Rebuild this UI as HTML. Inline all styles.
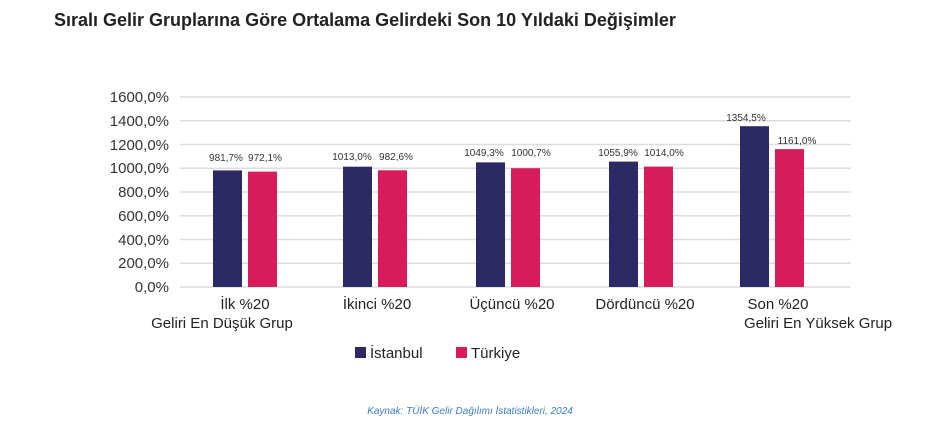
<!DOCTYPE html><html><head><style>body{margin:0;background:#fff}svg{display:block}</style></head><body>
<svg width="941" height="444" xmlns="http://www.w3.org/2000/svg" font-family="Liberation Sans, sans-serif">
<text x="54" y="26" font-size="18" font-weight="bold" fill="#222">Sıralı Gelir Gruplarına Göre Ortalama Gelirdeki Son 10 Yıldaki Değişimler</text>
<g stroke="#ddd" stroke-width="1.5">
<line x1="180" x2="851" y1="97" y2="97"/><line x1="180" x2="851" y1="120.75" y2="120.75"/><line x1="180" x2="851" y1="144.5" y2="144.5"/><line x1="180" x2="851" y1="168.25" y2="168.25"/><line x1="180" x2="851" y1="192" y2="192"/><line x1="180" x2="851" y1="215.75" y2="215.75"/><line x1="180" x2="851" y1="239.5" y2="239.5"/><line x1="180" x2="851" y1="263.25" y2="263.25"/><line x1="180" x2="851" y1="287" y2="287"/>
</g>
<g font-size="15" fill="#333" text-anchor="end">
<text x="169" y="102">1600,0%</text><text x="169" y="126">1400,0%</text><text x="169" y="150">1200,0%</text><text x="169" y="173">1000,0%</text><text x="169" y="197">800,0%</text><text x="169" y="221">600,0%</text><text x="169" y="245">400,0%</text><text x="169" y="268">200,0%</text><text x="169" y="292">0,0%</text>
</g>
<g>
<rect x="213" y="170.4" width="29" height="116.6" fill="#2b2a64"/><rect x="248" y="171.6" width="29" height="115.4" fill="#d81b5a"/>
<rect x="343" y="166.7" width="29" height="120.3" fill="#2b2a64"/><rect x="378" y="170.3" width="29" height="116.7" fill="#d81b5a"/>
<rect x="476" y="162.4" width="29" height="124.6" fill="#2b2a64"/><rect x="511" y="168.2" width="29" height="118.8" fill="#d81b5a"/>
<rect x="609" y="161.6" width="29" height="125.4" fill="#2b2a64"/><rect x="644" y="166.6" width="29" height="120.4" fill="#d81b5a"/>
<rect x="740" y="126.2" width="29" height="160.8" fill="#2b2a64"/><rect x="775" y="149.1" width="29" height="137.9" fill="#d81b5a"/>
</g>
<g font-size="10" fill="#333" text-anchor="middle">
<text x="226" y="161">981,7%</text><text x="265" y="161">972,1%</text>
<text x="352" y="160">1013,0%</text><text x="396" y="160">982,6%</text>
<text x="484" y="156">1049,3%</text><text x="531" y="156">1000,7%</text>
<text x="618" y="156">1055,9%</text><text x="664" y="156">1014,0%</text>
<text x="746" y="121">1354,5%</text><text x="797" y="144">1161,0%</text>
</g>
<g font-size="15" fill="#222" text-anchor="middle">
<text x="245" y="309">İlk %20</text><text x="222" y="328">Geliri En Düşük Grup</text>
<text x="377" y="309">İkinci %20</text>
<text x="512" y="309">Üçüncü %20</text>
<text x="645" y="309">Dördüncü %20</text>
<text x="778" y="309">Son %20</text><text x="818" y="328">Geliri En Yüksek Grup</text>
</g>
<rect x="355" y="347" width="11" height="11" fill="#2b2a64"/><text x="370" y="358" font-size="15" fill="#222">İstanbul</text>
<rect x="456" y="347" width="11" height="11" fill="#d81b5a"/><text x="471" y="358" font-size="15" fill="#222">Türkiye</text>
<text x="470" y="414" font-size="10" font-style="italic" fill="#3a7dc9" text-anchor="middle">Kaynak: TÜİK Gelir Dağılımı İstatistikleri, 2024</text>
</svg></body></html>
